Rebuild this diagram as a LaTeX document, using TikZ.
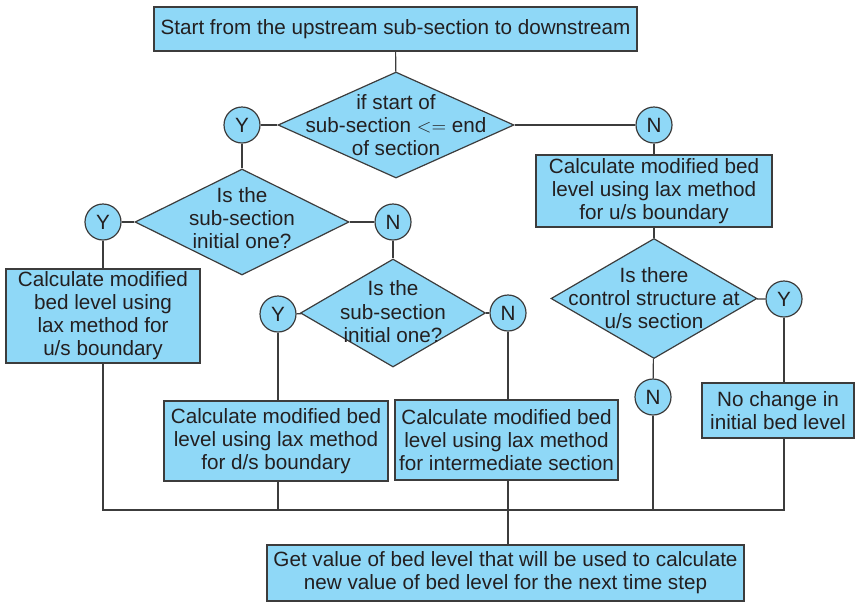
\documentclass[tikz,border=0pt]{standalone}
\usepackage{fontspec}
\setmainfont{Liberation Sans}
\usetikzlibrary{shapes.geometric}
\definecolor{boxblue}{HTML}{8FD8F7}
\definecolor{linegray}{HTML}{3C3C3C}
\definecolor{textgray}{HTML}{231F20}
\tikzset{
  box/.style={draw=linegray, fill=boxblue, inner sep=0pt, align=center, text=textgray},
  choice/.style={draw=linegray, fill=boxblue, diamond, inner sep=0pt},
  choicetext/.style={align=center, inner sep=0pt, text=textgray},
  tag/.style={draw=linegray, fill=boxblue, circle, inner sep=0pt, minimum size=27pt, text=textgray},
}
\begin{document}
\begin{tikzpicture}[x=0.75pt, y=-0.75pt, line width=0.9pt, draw=linegray,
    font=\fontsize{15.5}{17.3}\selectfont]
  \useasboundingbox (0,0) rectangle (856,601);

  % process boxes
  \node[box, minimum width={483*0.75pt}, minimum height={44*0.75pt}] (start) at (395.5,29)
    {Start from the upstream sub-section to downstream};
  \node[box, minimum width={236*0.75pt}, minimum height={72*0.75pt}] (usbnd) at (654,191)
    {Calculate modified bed\\level using lax method\\for u/s boundary};
  \node[box, minimum width={194*0.75pt}, minimum height={94*0.75pt}] (usfirst) at (103,316)
    {Calculate modified\\bed level using\\lax method for\\u/s boundary};
  \node[box, minimum width={224*0.75pt}, minimum height={80*0.75pt}] (dsbnd) at (276,441)
    {Calculate modified bed\\level using lax method\\for d/s boundary};
  \node[box, minimum width={223*0.75pt}, minimum height={80*0.75pt}] (inter) at (506.5,440)
    {Calculate modified bed\\level using lax method\\for intermediate section};
  \node[box, minimum width={152*0.75pt}, minimum height={55*0.75pt}] (nochange) at (778,410.5)
    {No change in\\initial bed level};
  \node[box, minimum width={477*0.75pt}, minimum height={56*0.75pt}] (final) at (505.5,573)
    {Get value of bed level that will be used to calculate\\new value of bed level for the next time step};

  % decisions
  \node[choice, minimum width={236*0.75pt}, minimum height={106*0.75pt}] (d1) at (396,125) {};
  \node[choicetext] at (d1) {if start of\\sub-section $<=$ end\\of section};
  \node[choice, minimum width={214*0.75pt}, minimum height={106*0.75pt}] (d2) at (242,222) {};
  \node[choicetext] at ([yshift=3pt]d2) {Is the\\sub-section\\initial one?};
  \node[choice, minimum width={185*0.75pt}, minimum height={108*0.75pt}] (d3) at (393,313) {};
  \node[choicetext] at ([yshift=1pt]d3) {Is the\\sub-section\\initial one?};
  \node[choice, minimum width={206*0.75pt}, minimum height={120*0.75pt}] (d4) at (654,298.5) {};
  \node[choicetext] at (d4) {Is there\\control structure at\\u/s section};

  % yes / no tags
  \node[tag] (y1) at (242,125) {Y};
  \node[tag] (n1) at (654,125) {N};
  \node[tag] (y2) at (103,222) {Y};
  \node[tag] (n2) at (393,222) {N};
  \node[tag] (y3) at (278,314) {Y};
  \node[tag] (n3) at (508,313) {N};
  \node[tag] (y4) at (784,299) {Y};
  \node[tag] (n4) at (653,397) {N};

  \coordinate (bus) at (0,510);

  \begin{scope}[-]
    \draw (start) to (d1);
    \draw (d1) to (y1);
    \draw (d1) to (n1);
    \draw (y1) to (d2);
    \draw (n1) to (usbnd);
    \draw (usbnd) to (d4);
    \draw (d4) to (y4);
    \draw (d4) to (n4);
    \draw (d2) to (y2);
    \draw (d2) to (n2);
    \draw (y2) to (usfirst);
    \draw (n2) to (d3);
    \draw (d3) to (y3);
    \draw (d3) to (n3);
    \draw (y3) to (y3 |- dsbnd.north);
    \draw (n3) to (n3 |- inter.north);
    \draw (y4) to (y4 |- nochange.north);
    % collecting line
    \draw (usfirst.south) |- (y4 |- bus) -- (y4 |- nochange.south);
    \draw (y3 |- dsbnd.south) to (y3 |- bus);
    \draw (n4) to (n4 |- bus);
    \draw (n3 |- inter.south) to (n3 |- final.north);
  \end{scope}
\end{tikzpicture}
\end{document}
